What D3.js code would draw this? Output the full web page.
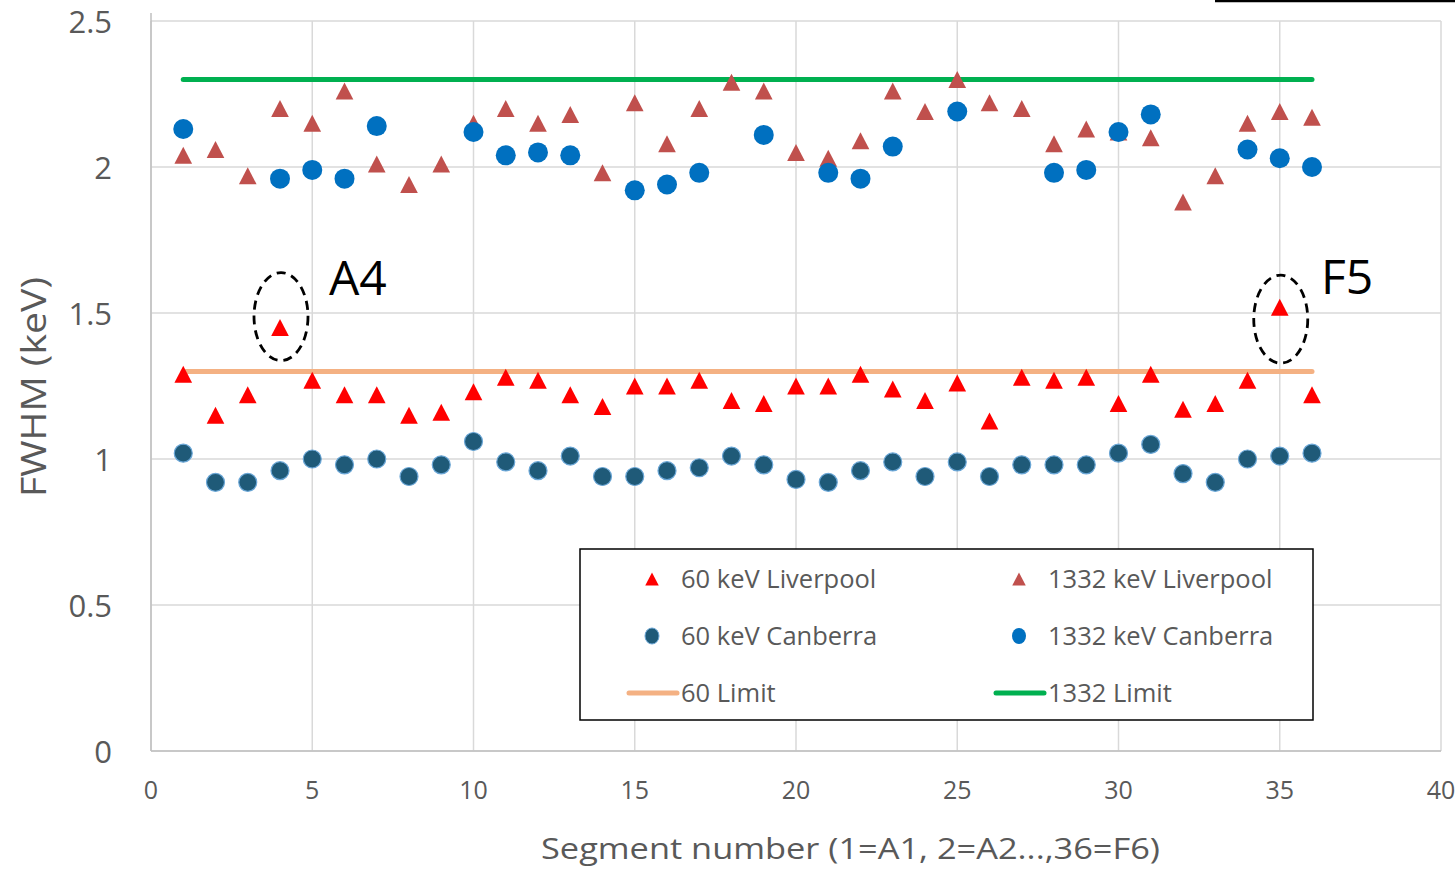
<!DOCTYPE html>
<html>
<head>
<meta charset="utf-8">
<script src="https://cdn.jsdelivr.net/npm/d3@7"></script>
<style>
  body { margin: 0; background: #fff; }
  svg { display: block; font-family: "Open Sans", "Noto Sans", sans-serif; }
</style>
</head>
<body>
<div id="chart"></div>
<script>
// Segment numbers 1..36
const segments = [1,2,3,4,5,6,7,8,9,10,11,12,13,14,15,16,17,18,19,20,21,22,23,24,25,26,27,28,29,30,31,32,33,34,35,36];

// FWHM values (keV)
const liverpool60 = [1.29,1.15,1.22,1.45,1.27,1.22,1.22,1.15,1.16,1.23,1.28,1.27,1.22,1.18,1.25,1.25,1.27,1.20,1.19,1.25,
  1.25,1.29,1.24,1.20,1.26,1.13,1.28,1.27,1.28,1.19,1.29,1.17,1.19,1.27,1.52,1.22];
const liverpool1332 = [2.04,2.06,1.97,2.20,2.15,2.26,2.01,1.94,2.01,2.15,2.20,2.15,2.18,1.98,2.22,2.08,2.20,2.29,2.26,2.05,
  2.03,2.09,2.26,2.19,2.30,2.22,2.20,2.08,2.13,2.12,2.10,1.88,1.97,2.15,2.19,2.17];
const canberra60 = [1.02,0.92,0.92,0.96,1.00,0.98,1.00,0.94,0.98,1.06,0.99,0.96,1.01,0.94,0.94,0.96,0.97,1.01,0.98,0.93,
  0.92,0.96,0.99,0.94,0.99,0.94,0.98,0.98,0.98,1.02,1.05,0.95,0.92,1.00,1.01,1.02];
const canberra1332 = [2.13,null,null,1.96,1.99,1.96,2.14,null,null,2.12,2.04,2.05,2.04,null,1.92,1.94,1.98,null,2.11,null,
  1.98,1.96,2.07,null,2.19,null,null,1.98,1.99,2.12,2.18,null,null,2.06,2.03,2.00];
const limit60 = 1.3;
const limit1332 = 2.3;

const xTicks = [0,5,10,15,20,25,30,35,40];
const yTicks = [0,0.5,1,1.5,2,2.5];

const legendLabels = ["60 keV Liverpool","1332 keV Liverpool","60 keV Canberra","1332 keV Canberra","60 Limit","1332 Limit"];
// circled outliers: segment, label, ellipse offset from the point
const annotations = [{ seg: 4, label: "A4", dy: -11 }, { seg: 35, label: "F5", dy: 12 }];

const W = 1455, H = 869;
const svg = d3.select("#chart").append("svg").attr("width", W).attr("height", H);

const x = d3.scaleLinear().domain([0, 40]).range([151, 1441]);
const y = d3.scaleLinear().domain([0, 2.5]).range([751, 21]);

const textCol = "#595959";
const gridCol = "#d9d9d9";

// gridlines
svg.append("g").selectAll("line").data(yTicks).enter().append("line")
  .attr("x1", x(0)).attr("x2", x(40))
  .attr("y1", d => y(d)).attr("y2", d => y(d))
  .attr("stroke", gridCol).attr("stroke-width", 1.5);
svg.append("g").selectAll("line").data(xTicks).enter().append("line")
  .attr("x1", d => x(d)).attr("x2", d => x(d))
  .attr("y1", y(0)).attr("y2", y(2.5))
  .attr("stroke", gridCol).attr("stroke-width", 1.5);
svg.append("line").attr("x1", x(0)).attr("x2", x(0)).attr("y1", y(2.5) - 8).attr("y2", y(0))
  .attr("stroke", "#bfbfbf").attr("stroke-width", 1.5);
svg.append("line").attr("x1", x(0)).attr("x2", x(40)).attr("y1", y(0)).attr("y2", y(0))
  .attr("stroke", "#bfbfbf").attr("stroke-width", 1.5);

// tick labels
svg.append("g").selectAll("text").data(yTicks).enter().append("text")
  .attr("x", 112).attr("y", d => y(d) + 1).attr("dy", "0.36em")
  .attr("text-anchor", "end").attr("font-size", 31).attr("fill", textCol)
  .text(d => d);
svg.append("g").selectAll("text").data(xTicks).enter().append("text")
  .attr("x", d => x(d)).attr("y", 790).attr("dy", "0.36em")
  .attr("text-anchor", "middle").attr("font-size", 25).attr("fill", textCol)
  .text(d => d);

// axis titles
svg.append("text").attr("x", 541).attr("y", 848).attr("dy", "0.36em")
  .attr("font-size", 30).attr("fill", textCol)
  .attr("textLength", 619).attr("lengthAdjust", "spacingAndGlyphs")
  .text("Segment number (1=A1, 2=A2...,36=F6)");
svg.append("text").attr("transform", "translate(34,497) rotate(-90)").attr("dy", "0.36em")
  .attr("font-size", 34).attr("fill", textCol)
  .attr("textLength", 220).attr("lengthAdjust", "spacingAndGlyphs")
  .text("FWHM (keV)");

// limit lines
function limitLine(v, col) {
  svg.append("line")
    .attr("x1", x(segments[0])).attr("x2", x(segments[segments.length - 1]))
    .attr("y1", y(v)).attr("y2", y(v))
    .attr("stroke", col).attr("stroke-width", 5).attr("stroke-linecap", "round");
}
limitLine(limit60, "#f4b183");
limitLine(limit1332, "#00b050");

// triangle symbol centred at mid-height
const tri = {
  draw(ctx, size) {
    const h = Math.sqrt(size), w = h * 0.52;
    ctx.moveTo(0, -h / 2);
    ctx.lineTo(w, h / 2);
    ctx.lineTo(-w, h / 2);
    ctx.closePath();
  }
};

function triangles(vals, col, sz) {
  svg.append("g").selectAll("path")
    .data(segments.map((s, i) => ({ s, v: vals[i] })).filter(d => d.v != null))
    .enter().append("path")
    .attr("transform", d => `translate(${x(d.s)},${y(d.v)})`)
    .attr("d", d3.symbol(tri, sz * sz))
    .attr("fill", col);
}
function dots(vals, col, r, stroke) {
  svg.append("g").selectAll("circle")
    .data(segments.map((s, i) => ({ s, v: vals[i] })).filter(d => d.v != null))
    .enter().append("circle")
    .attr("cx", d => x(d.s)).attr("cy", d => y(d.v)).attr("r", r)
    .attr("fill", col)
    .attr("stroke", stroke || "none").attr("stroke-width", 1.2);
}

triangles(liverpool60, "#ff0000", 17);
triangles(liverpool1332, "#c0504d", 17);
dots(canberra60, "#1f5a78", 9, "#6aa6d6");
dots(canberra1332, "#0070c0", 10);

// annotations
annotations.forEach(a => {
  const v = liverpool60[a.seg - 1];
  svg.append("ellipse")
    .attr("cx", x(a.seg) + 1).attr("cy", y(v) + a.dy)
    .attr("rx", 27).attr("ry", 44)
    .attr("fill", "none").attr("stroke", "#000").attr("stroke-width", 2.8)
    .attr("stroke-dasharray", "9,6");
});
svg.append("text").attr("x", 329).attr("y", 295).attr("font-size", 48).attr("fill", "#000").text(annotations[0].label);
svg.append("text").attr("x", 1321).attr("y", 294).attr("font-size", 48).attr("fill", "#000").text(annotations[1].label);

// legend
const lg = svg.append("g");
lg.append("rect").attr("x", 580).attr("y", 549).attr("width", 733).attr("height", 171)
  .attr("fill", "#fff").attr("stroke", "#000").attr("stroke-width", 1.5);
const cols = [652, 1019], rows = [579, 636, 693];
legendLabels.forEach((lab, i) => {
  const cx = cols[i % 2], cy = rows[Math.floor(i / 2)];
  if (i < 2) {
    lg.append("path").attr("transform", `translate(${cx},${cy})`)
      .attr("d", d3.symbol(tri, 13 * 13)).attr("fill", i === 0 ? "#ff0000" : "#c0504d");
  } else if (i < 4) {
    lg.append("ellipse").attr("cx", cx).attr("cy", cy).attr("rx", 7).attr("ry", 8)
      .attr("fill", i === 2 ? "#1f5a78" : "#0070c0")
      .attr("stroke", i === 2 ? "#6aa6d6" : "none").attr("stroke-width", 1);
  } else {
    lg.append("line").attr("x1", cx - 23).attr("x2", cx + 25).attr("y1", cy).attr("y2", cy)
      .attr("stroke", i === 4 ? "#f4b183" : "#00b050").attr("stroke-width", 5).attr("stroke-linecap", "round");
  }
  lg.append("text").attr("x", cx + 29).attr("y", cy).attr("dy", "0.36em")
    .attr("font-size", 25.5).attr("fill", textCol).text(lab);
});

// stray rule at top right of the source image
svg.append("line").attr("x1", 1215).attr("x2", 1455).attr("y1", 1).attr("y2", 1)
  .attr("stroke", "#000").attr("stroke-width", 2.5);
</script>
</body>
</html>
